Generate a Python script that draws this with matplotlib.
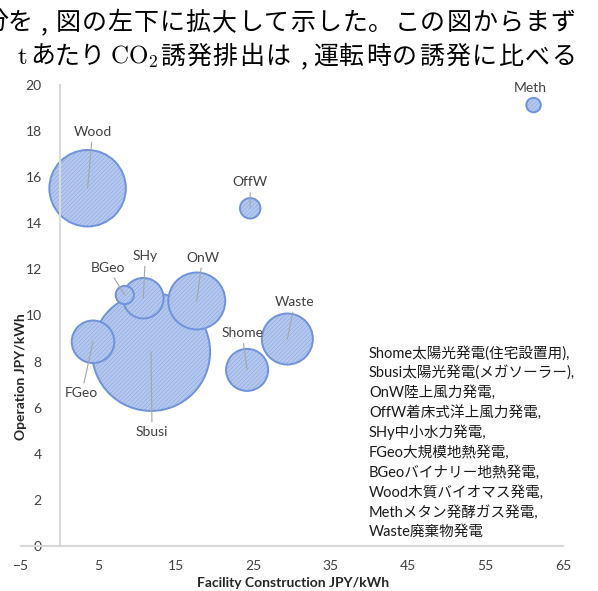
import numpy as np
import matplotlib
matplotlib.use('Agg')
import matplotlib.pyplot as plt

plt.rcParams['font.family'] = ['Lato', 'Noto Sans CJK JP', 'DejaVu Sans']
plt.rcParams['mathtext.fontset'] = 'cm'
plt.rcParams['hatch.linewidth'] = 0.45

# data
names = ['Shome', 'Sbusi', 'OnW', 'OffW', 'SHy', 'FGeo', 'BGeo', 'Wood', 'Meth', 'Waste']
facility = [24.2, 11.8, 17.7, 24.6, 10.8, 4.3, 8.4, 3.6, 61.2, 29.4]     # JPY/kWh
operation = [7.64, 8.42, 10.63, 14.65, 10.75, 8.86, 10.89, 15.52, 19.13, 8.98]
bubble = [12.7, 100, 23.3, 3.0, 11.8, 13.0, 2.4, 42.0, 1.5, 18.7]       # relative bubble size

legend_lines = ['Shome太陽光発電(住宅設置用),',
                'Sbusi太陽光発電(メガソーラー),',
                'OnW陸上風力発電,',
                'OffW着床式洋上風力発電,',
                'SHy中小水力発電,',
                'FGeo大規模地熱発電,',
                'BGeoバイナリー地熱発電,',
                'Wood木質バイオマス発電,',
                'Methメタン発酵ガス発電,',
                'Waste廃棄物発電']

# label offsets (points) from bubble centre
label_off = {'Shome': (-3.6, 26.6), 'Sbusi': (0.7, -57.6), 'OnW': (4.1, 31.0),
             'OffW': (0.0, 18.7), 'SHy': (1.4, 30.2), 'FGeo': (-8.1, -37.0),
             'BGeo': (-12.2, 19.4), 'Wood': (3.6, 40.3), 'Meth': (-2.4, 12.2),
             'Waste': (5.4, 26.6)}

W, H = 598, 591
fig = plt.figure(figsize=(W / 100, H / 100), dpi=100)
ax = fig.add_axes([21 / W, 45 / H, 542 / W, 461 / H])

# bubbles, biggest first so small ones sit on top
order = np.argsort(bubble)[::-1]
fx = np.array(facility)[order]
oy = np.array(operation)[order]
sz = np.array(bubble)[order] / 100 * (2 * 59 * 0.72) ** 2
for i in range(len(fx)):
    ax.scatter(fx[i], oy[i], s=sz[i], facecolor='#B5C8EE', edgecolor='#8EA8E2',
               linewidth=0, hatch='////////', zorder=2)
    ax.scatter(fx[i], oy[i], s=sz[i], facecolor='none', edgecolor='#6F93DA',
               linewidth=1.4, zorder=2)

for n, x, y in zip(names, facility, operation):
    dx, dy = label_off[n]
    props = None if n == 'Meth' else dict(arrowstyle='-', color='#A6A6A6', lw=0.8,
                                          shrinkA=1, shrinkB=0)
    ax.annotate(n, xy=(x, y), xytext=(dx, dy), textcoords='offset points',
                ha='center', va='center', fontsize=10, color='#404040',
                arrowprops=props, zorder=4)

ax.set_xlim(-5, 65)
ax.set_ylim(0, 20)
ax.set_xticks(np.arange(-5, 66, 10))
ax.set_yticks(np.arange(0, 21, 2))
ax.spines['top'].set_visible(False)
ax.spines['right'].set_visible(False)
ax.spines['left'].set_position(('data', 0))
ax.spines['left'].set_color('#D9D9D9')
ax.spines['left'].set_linewidth(1.5)
ax.spines['bottom'].set_color('#D9D9D9')
ax.spines['bottom'].set_linewidth(1.5)
ax.tick_params(axis='both', length=0, labelsize=10, labelcolor='#404040')
ax.tick_params(axis='y', pad=13)
ax.tick_params(axis='x', pad=10)

fig.text(293 / W, 1 - 583 / H, 'Facility Construction JPY/kWh', ha='center', va='center',
         fontsize=10, fontweight='bold', color='#262626')
fig.text(21 / W, 1 - 377 / H, 'Operation JPY/kWh', ha='center', va='center',
         rotation=90, fontsize=10, fontweight='bold', color='#262626')

for k, line in enumerate(legend_lines):
    fig.text(369 / W, 1 - (353 + 19.9 * k) / H, line, ha='left', va='center',
             fontsize=10.5, color='#1A1A1A')

# cropped page text above the chart (justified, so chars are spread evenly)
jp = ['Noto Sans CJK JP', 'DejaVu Sans']


def spread(s, x0, x1, ypix):
    step = (x1 - x0) / len(s)
    for j, ch in enumerate(s):
        fig.text((x0 + step * (j + 0.5)) / W, 1 - ypix / H, ch, ha='center', va='center',
                 fontsize=18, family=jp, color='black')


spread('分を', -17, 33, 23)
fig.text(44 / W, 1 - 23 / H, ',', ha='center', va='center', fontsize=18, family=jp)
spread('図の左下に拡大して示した。この図からまず', 55, 576, 23)

fig.text(17 / W, 1 - 57 / H, r'$\mathrm{t}$', ha='left', va='center', fontsize=18)
spread('あたり', 31, 104, 57)
fig.text(110 / W, 1 - 57 / H, r'$\mathrm{CO}_2$', ha='left', va='center', fontsize=18)
spread('誘発排出は', 159, 291, 57)
fig.text(304 / W, 1 - 57 / H, ',', ha='center', va='center', fontsize=18, family=jp)
spread('運転時の誘発に比べる', 312, 577, 57)

fig.savefig('out.png', dpi=100)
